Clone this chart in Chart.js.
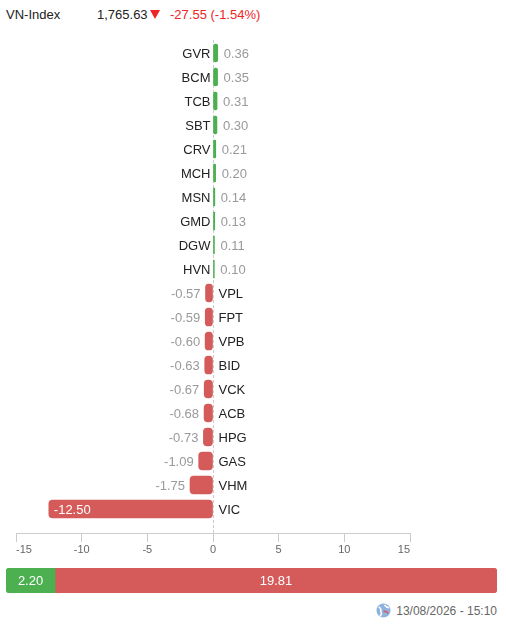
<!DOCTYPE html>
<html>
<head>
<meta charset="utf-8">
<script src="https://cdn.jsdelivr.net/npm/chart.js@4.4.1/dist/chart.umd.min.js"></script>
<style>
  body { margin: 0; background: #fff; font-family: "Liberation Sans", Arial, sans-serif; }
  #wrap { position: relative; width: 506px; height: 627px; overflow: hidden; }
  .hd { position: absolute; top: 7px; font-size: 13px; line-height: 16px; white-space: nowrap; }
  #main { position: absolute; left: 0; top: 0; }
  #breadth { position: absolute; left: 6px; top: 568px; }
  #foot { position: absolute; right: 9px; top: 603px; font-size: 12px; line-height: 16px; color: #666; white-space: nowrap; }
  #foot svg { vertical-align: -3px; margin-right: 5px; }
</style>
</head>
<body>
<div id="wrap">
  <div class="hd" style="left:6px;color:#222">VN-Index</div>
  <div class="hd" style="left:97px;color:#222">1,765.63</div>
  <svg class="hd" style="left:150px;top:10px" width="10" height="10"><polygon points="0,0 10,0 5,9" fill="#f02424"/></svg>
  <div class="hd" style="left:170px;color:#f02424">-27.55 (-1.54%)</div>

  <canvas id="main" width="506" height="561"></canvas>
  <canvas id="breadth" width="491" height="25"></canvas>

  <div id="foot"><svg width="15" height="15" viewBox="0 0 16 16">
    <circle cx="8" cy="8" r="7.5" fill="#8fb3de"/>
    <path d="M3 4 Q6 6 5 9 Q7 12 4 14" stroke="#fff" stroke-width="1.6" fill="none"/>
    <path d="M9 2 Q11 5 14 5" stroke="#fff" stroke-width="1.6" fill="none"/>
    <path d="M8 9 Q11 8 13 11" stroke="#d65c5c" stroke-width="1.6" fill="none"/>
  </svg>13/08/2026 - 15:10</div>
</div>

<script>
// tickers and their impact on the index (points)
const tickers = ['GVR','BCM','TCB','SBT','CRV','MCH','MSN','GMD','DGW','HVN',
                 'VPL','FPT','VPB','BID','VCK','ACB','HPG','GAS','VHM','VIC'];
const impacts = [0.36, 0.35, 0.31, 0.30, 0.21, 0.20, 0.14, 0.13, 0.11, 0.10,
                 -0.57, -0.59, -0.60, -0.63, -0.67, -0.68, -0.73, -1.09, -1.75, -12.50];
const axisMin = -15, axisMax = 15, axisStep = 5;

// total positive / negative impact shown in the bottom bar
const breadthLabels = ['Tăng', 'Giảm'];
const breadthValues = [2.20, 19.81];

const GREEN = '#4caf50';
const RED = '#d55a5a';
const FONT = '"Liberation Sans", Arial, sans-serif';

// dashed zero line + ticker / value labels next to each bar
const barLabels = {
  id: 'barLabels',
  beforeDatasetsDraw(chart) {
    const ctx = chart.ctx;
    const x = Math.round(chart.scales.x.getPixelForValue(0)) + 0.5;
    ctx.save();
    ctx.strokeStyle = '#cccccc';
    ctx.lineWidth = 1;
    ctx.setLineDash([3, 2]);
    ctx.beginPath();
    ctx.moveTo(x, 40);
    ctx.lineTo(x, chart.chartArea.bottom);
    ctx.stroke();
    ctx.restore();
  },
  afterDatasetsDraw(chart) {
    const ctx = chart.ctx;
    const meta = chart.getDatasetMeta(0);
    ctx.save();
    ctx.font = '13px ' + FONT;
    ctx.textBaseline = 'middle';
    meta.data.forEach((bar, i) => {
      const v = impacts[i];
      const {x, y, base} = bar.getProps(['x', 'y', 'base'], true);
      const txt = v.toFixed(2);
      if (v >= 0) {
        ctx.fillStyle = '#222';
        ctx.textAlign = 'right';
        ctx.fillText(tickers[i], base - 3, y + 1);
        ctx.fillStyle = '#999';
        ctx.textAlign = 'left';
        ctx.fillText(txt, x + 6, y + 1);
      } else {
        ctx.fillStyle = '#222';
        ctx.textAlign = 'left';
        ctx.fillText(tickers[i], base + 6, y + 1);
        const w = ctx.measureText(txt).width;
        if (base - x > w + 12) {
          ctx.fillStyle = '#fff';
          ctx.textAlign = 'left';
          ctx.fillText(txt, x + 5, y + 1);
        } else {
          ctx.fillStyle = '#999';
          ctx.textAlign = 'right';
          ctx.fillText(txt, x - 5, y + 1);
        }
      }
    });
    ctx.restore();
  }
};

new Chart(document.getElementById('main'), {
  type: 'bar',
  data: {
    datasets: [{
      data: tickers.map((t, i) => ({x: impacts[i], y: i})),
      backgroundColor: impacts.map(v => v >= 0 ? GREEN : RED),
      borderRadius: 4,
      borderSkipped: false,
      barThickness: 18
    }]
  },
  options: {
    indexAxis: 'y',
    responsive: false,
    animation: false,
    layout: { padding: { left: 16, right: 96, top: 41, bottom: 0 } },
    plugins: { legend: { display: false }, tooltip: { enabled: false } },
    scales: {
      y: { type: 'linear', reverse: true, min: -0.5, max: 20, offset: false, display: false },
      x: {
        type: 'linear',
        min: axisMin,
        max: axisMax,
        ticks: { stepSize: axisStep, align: 'inner', padding: 1, color: '#666', font: { size: 11, family: FONT } },
        grid: { drawOnChartArea: false, tickLength: 9, tickColor: '#cccccc' },
        border: { color: '#cccccc' },
        afterFit(scale) { scale.height = 28; }
      }
    }
  },
  plugins: [barLabels]
});

// centered white values inside the breadth bar
const breadthText = {
  id: 'breadthText',
  afterDatasetsDraw(chart) {
    const ctx = chart.ctx;
    ctx.save();
    ctx.font = '13px ' + FONT;
    ctx.fillStyle = '#fff';
    ctx.textAlign = 'center';
    ctx.textBaseline = 'middle';
    chart.data.datasets.forEach((ds, d) => {
      const bar = chart.getDatasetMeta(d).data[0];
      const {x, y, base} = bar.getProps(['x', 'y', 'base'], true);
      ctx.fillText(breadthValues[d].toFixed(2), (x + base) / 2, y + 1);
    });
    ctx.restore();
  }
};

new Chart(document.getElementById('breadth'), {
  type: 'bar',
  data: {
    labels: [''],
    datasets: breadthLabels.map((l, i) => ({
      label: l,
      data: [breadthValues[i]],
      backgroundColor: i === 0 ? GREEN : RED,
      borderRadius: 4,
      borderSkipped: 'middle',
      barPercentage: 1,
      categoryPercentage: 1
    }))
  },
  options: {
    indexAxis: 'y',
    responsive: false,
    animation: false,
    layout: { padding: 0 },
    plugins: { legend: { display: false }, tooltip: { enabled: false } },
    scales: {
      x: { stacked: true, display: false, min: 0, max: breadthValues[0] + breadthValues[1] },
      y: { stacked: true, display: false }
    }
  },
  plugins: [breadthText]
});
</script>
</body>
</html>
